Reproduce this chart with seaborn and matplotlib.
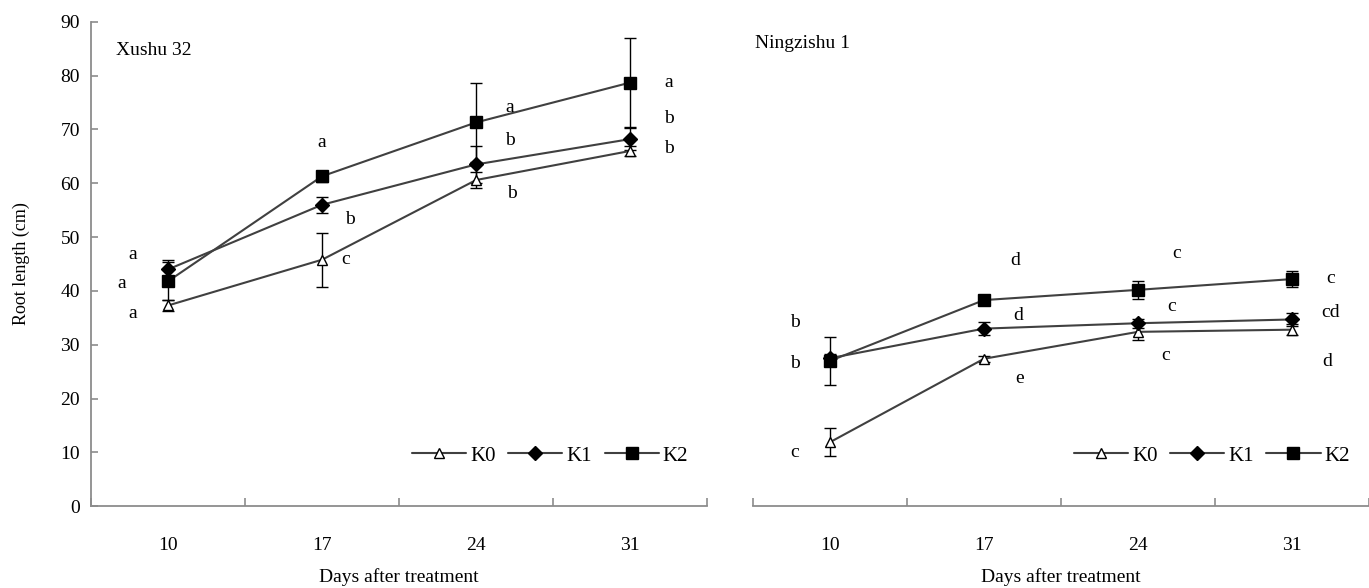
import matplotlib
matplotlib.use("Agg")
import matplotlib.pyplot as plt
import pandas as pd
import seaborn as sns

days = ["10", "17", "24", "31"]
treatments = ["K0", "K1", "K2"]

# Xushu 32
xushu_k0 = [37.3, 45.8, 60.6, 66.0]
xushu_k1 = [44.0, 56.0, 63.5, 68.2]
xushu_k2 = [41.8, 61.3, 71.3, 78.7]
xushu_k0_err = [1.0, 5.0, 1.5, 1.0]
xushu_k1_err = [1.8, 1.5, 3.4, 2.0]
xushu_k2_err = [3.5, 1.0, 7.4, 8.3]
xushu_letters_k0 = ["a", "c", "b", "b"]
xushu_letters_k1 = ["a", "b", "b", "b"]
xushu_letters_k2 = ["a", "a", "a", "a"]

# Ningzishu 1
ning_k0 = [11.9, 27.4, 32.4, 32.8]
ning_k1 = [27.5, 33.0, 34.0, 34.7]
ning_k2 = [27.0, 38.3, 40.2, 42.2]
ning_k0_err = [2.6, 0.6, 1.5, 1.0]
ning_k1_err = [0.8, 1.2, 0.8, 1.2]
ning_k2_err = [4.5, 0.6, 1.7, 1.5]
ning_letters_k0 = ["c", "e", "c", "d"]
ning_letters_k1 = ["b", "d", "c", "cd"]
ning_letters_k2 = ["b", "d", "c", "c"]

sns.set_style("white")
plt.rcParams["font.family"] = ["Liberation Serif", "DejaVu Serif"]
plt.rcParams["text.color"] = "black"
plt.rcParams["axes.labelcolor"] = "black"
plt.rcParams["xtick.color"] = "black"
plt.rcParams["ytick.color"] = "black"

fig = plt.figure(figsize=(13.69, 5.88), dpi=100)
ax1 = fig.add_axes([0.0665, 0.139, 0.45, 0.824])
ax2 = fig.add_axes([0.550, 0.139, 0.45, 0.824])

line_col = "#404040"
axis_col = "#8c8c8c"
markers = {"K0": "^", "K1": "D", "K2": "s"}
faces = {"K0": "white", "K1": "black", "K2": "black"}
msizes = {"K0": 7, "K1": 7, "K2": 8}


def draw_panel(ax, vals, errs, letters, letter_pos, name, name_xy, show_y):
    rows = []
    for t, v in zip(treatments, vals):
        for i, d in enumerate(days):
            rows.append({"pos": i, "len": v[i], "trt": t})
    df = pd.DataFrame(rows)
    for t, v, e in zip(treatments, vals, errs):
        sub = df[df.trt == t]
        sns.lineplot(data=sub, x="pos", y="len", ax=ax, color=line_col, lw=1.5,
                     marker=markers[t], markersize=msizes[t],
                     markerfacecolor=faces[t], markeredgecolor="black",
                     markeredgewidth=1.0, label=t, zorder=3)
        ax.errorbar(sub.pos, sub.len, yerr=e, fmt="none", ecolor="black",
                    elinewidth=1.0, capsize=4, capthick=1.0, zorder=2)
    for t, lets, v in zip(treatments, letters, vals):
        for i, lab in enumerate(lets):
            dx, dy = letter_pos[t][i]
            ax.text(i + dx, v[i] + dy, lab, fontsize=14, ha="center", va="center")

    ax.set_xlim(-0.5, 3.5)
    ax.set_ylim(0, 90)
    ax.set_yticks(range(0, 91, 10))
    ax.set_xticks([0, 1, 2, 3])
    ax.set_xticklabels(days, fontsize=14)
    ax.set_xticks([-0.5, 0.5, 1.5, 2.5, 3.5], minor=True)
    ax.tick_params(axis="x", which="major", bottom=False, length=0, pad=22)
    ax.tick_params(axis="x", which="minor", bottom=True, length=6, width=1.2,
                   direction="in", color=axis_col)
    ax.tick_params(axis="y", left=True, length=5, width=1.2, direction="in",
                   color=axis_col, labelsize=14, pad=8)
    ax.set_xlabel("Days after treatment", fontsize=14, labelpad=10)
    for s in ["top", "right"]:
        ax.spines[s].set_visible(False)
    ax.spines["bottom"].set_color(axis_col)
    ax.spines["bottom"].set_linewidth(1.3)
    if show_y:
        ax.spines["left"].set_color(axis_col)
        ax.spines["left"].set_linewidth(1.3)
        ax.set_ylabel("Root length (cm)", fontsize=13, labelpad=22)
    else:
        ax.spines["left"].set_visible(False)
        ax.tick_params(axis="y", left=False, labelleft=False)
        ax.set_ylabel("")
    ax.text(name_xy[0], name_xy[1], name, transform=ax.transAxes, fontsize=14,
            ha="left", va="center")
    ax.legend(loc="lower right", bbox_to_anchor=(1.0, 0.045), ncol=3, frameon=False,
              fontsize=15, handlelength=2.6, handletextpad=0.2, columnspacing=0.6)


xushu_pos = {
    "K0": [(-0.23, -1.4), (0.15, 0.0), (0.23, -2.5), (0.25, 0.5)],
    "K1": [(-0.23, 2.7), (0.18, -2.8), (0.22, 4.5), (0.25, 3.8)],
    "K2": [(-0.3, -0.4), (0.0, 6.2), (0.22, 2.7), (0.25, 0.0)],
}
ning_pos = {
    "K0": [(-0.23, -1.9), (0.23, -3.6), (0.18, -4.4), (0.23, -6.0)],
    "K1": [(-0.23, 6.7), (0.22, 2.5), (0.22, 3.2), (0.25, 1.3)],
    "K2": [(-0.23, -0.4), (0.2, 7.4), (0.25, 6.8), (0.25, 0.2)],
}

draw_panel(ax1, [xushu_k0, xushu_k1, xushu_k2],
           [xushu_k0_err, xushu_k1_err, xushu_k2_err],
           [xushu_letters_k0, xushu_letters_k1, xushu_letters_k2],
           xushu_pos, "Xushu 32", (0.04, 0.94), True)
draw_panel(ax2, [ning_k0, ning_k1, ning_k2],
           [ning_k0_err, ning_k1_err, ning_k2_err],
           [ning_letters_k0, ning_letters_k1, ning_letters_k2],
           ning_pos, "Ningzishu 1", (0.003, 0.955), False)

fig.savefig("out.png", dpi=100)
